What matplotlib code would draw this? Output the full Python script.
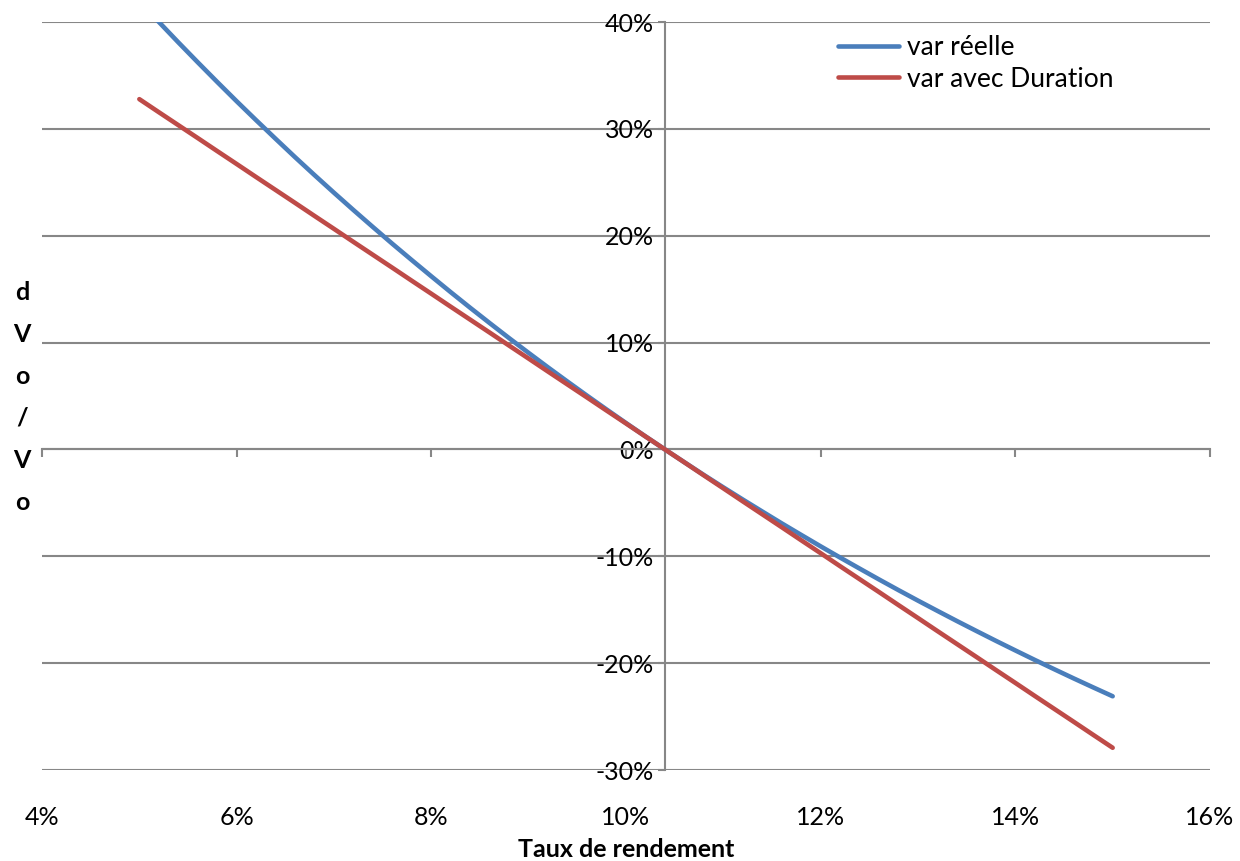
import matplotlib
matplotlib.use("Agg")
import matplotlib.pyplot as plt
from matplotlib.ticker import FuncFormatter

plt.rcParams['font.family'] = ['Lato', 'DejaVu Sans']

# Yield grid (%) and relative price change dV0/V0 (%)
taux = [5.0, 5.2, 5.4, 5.6, 5.8, 6.0, 6.2, 6.4, 6.6, 6.8,
        7.0, 7.2, 7.4, 7.6, 7.8, 8.0, 8.2, 8.4, 8.6, 8.8,
        9.0, 9.2, 9.4, 9.6, 9.8, 10.0, 10.2, 10.4, 10.6, 10.8,
        11.0, 11.2, 11.4, 11.6, 11.8, 12.0, 12.2, 12.4, 12.6, 12.8,
        13.0, 13.2, 13.4, 13.6, 13.8, 14.0, 14.2, 14.4, 14.6, 14.8, 15.0]

var_reelle = [41.95, 40.01, 38.10, 36.23, 34.39, 32.58, 30.81, 29.07, 27.35, 25.67,
              24.02, 22.40, 20.81, 19.24, 17.71, 16.20, 14.71, 13.25, 11.82, 10.41,
              9.03, 7.67, 6.34, 5.03, 3.74, 2.47, 1.22, 0.00, -1.20, -2.39,
              -3.55, -4.69, -5.81, -6.92, -8.00, -9.07, -10.12, -11.15, -12.17, -13.17,
              -14.15, -15.11, -16.06, -16.99, -17.91, -18.81, -19.70, -20.57, -21.43, -22.27, -23.10]

var_duration = [32.78, 31.56, 30.35, 29.14, 27.92, 26.71, 25.49, 24.28, 23.07, 21.85,
                20.64, 19.42, 18.21, 17.00, 15.78, 14.57, 13.35, 12.14, 10.93, 9.71,
                8.50, 7.28, 6.07, 4.86, 3.64, 2.43, 1.21, 0.00, -1.21, -2.43,
                -3.64, -4.86, -6.07, -7.28, -8.50, -9.71, -10.93, -12.14, -13.35, -14.57,
                -15.78, -17.00, -18.21, -19.42, -20.64, -21.85, -23.07, -24.28, -25.49, -26.71, -27.92]

taux_ref = 10.4
x_ticks = [4, 6, 8, 10, 12, 14, 16]
y_ticks = [-30, -20, -10, 0, 10, 20, 30, 40]

grey = '#878787'
blue = '#4A7EBB'
red = '#BE4B48'
fs = 18

W, H = 1240, 861
fig = plt.figure(figsize=(W / 100, H / 100), dpi=100)
ax = fig.add_axes([42 / W, 1 - 770 / H, (1210 - 42) / W, (770 - 22) / H])

ax.set_xlim(4, 16)
ax.set_ylim(-30, 40)

# horizontal gridlines
ax.set_yticks(y_ticks)
ax.yaxis.grid(True, color=grey, linewidth=1.5)
ax.set_axisbelow(True)

# axes crossing at (10.4 %, 0 %)
for s in ('top', 'right'):
    ax.spines[s].set_visible(False)
ax.spines['bottom'].set_position(('data', 0))
ax.spines['left'].set_position(('data', taux_ref))
for s in ('bottom', 'left'):
    ax.spines[s].set_color(grey)
    ax.spines[s].set_linewidth(1.5)

pct = FuncFormatter(lambda v, p: f"{v:.0f}%")
ax.set_xticks(x_ticks)
ax.tick_params(axis='x', direction='out', length=6, width=1.5, color=grey,
               labelbottom=False)
ax.tick_params(axis='y', direction='out', length=5, width=1.5, color=grey,
               labelsize=fs, pad=3)
ax.yaxis.set_major_formatter(pct)

# series
ax.plot(taux, var_reelle, color=blue, linewidth=3.3, solid_capstyle='round',
        label='var réelle', zorder=3)
ax.plot(taux, var_duration, color=red, linewidth=3.3, solid_capstyle='round',
        label='var avec Duration', zorder=3)

# x tick labels placed low, below the plot area
sec = ax.secondary_xaxis(-0.045)
sec.set_xticks(x_ticks)
sec.xaxis.set_major_formatter(pct)
sec.tick_params(length=0, labelsize=fs, pad=2)
sec.spines['bottom'].set_visible(False)
sec.set_xlabel('Taux de rendement', fontsize=fs, fontweight='bold', labelpad=6)

# vertical axis title, one letter per line
fig.text(22 / W, 1 - 397 / H, "d\nV\no\n/\nV\no", fontsize=fs, fontweight='bold',
         ha='center', va='center', linespacing=2.0)

ax.legend(loc='upper left', bbox_to_anchor=(838 / W, 1 - 35 / H),
          bbox_transform=fig.transFigure, frameon=False, fontsize=19,
          borderpad=0, borderaxespad=0, handlelength=2.3, handletextpad=0.3,
          labelspacing=0.25)

fig.savefig('out.png', dpi=100)
